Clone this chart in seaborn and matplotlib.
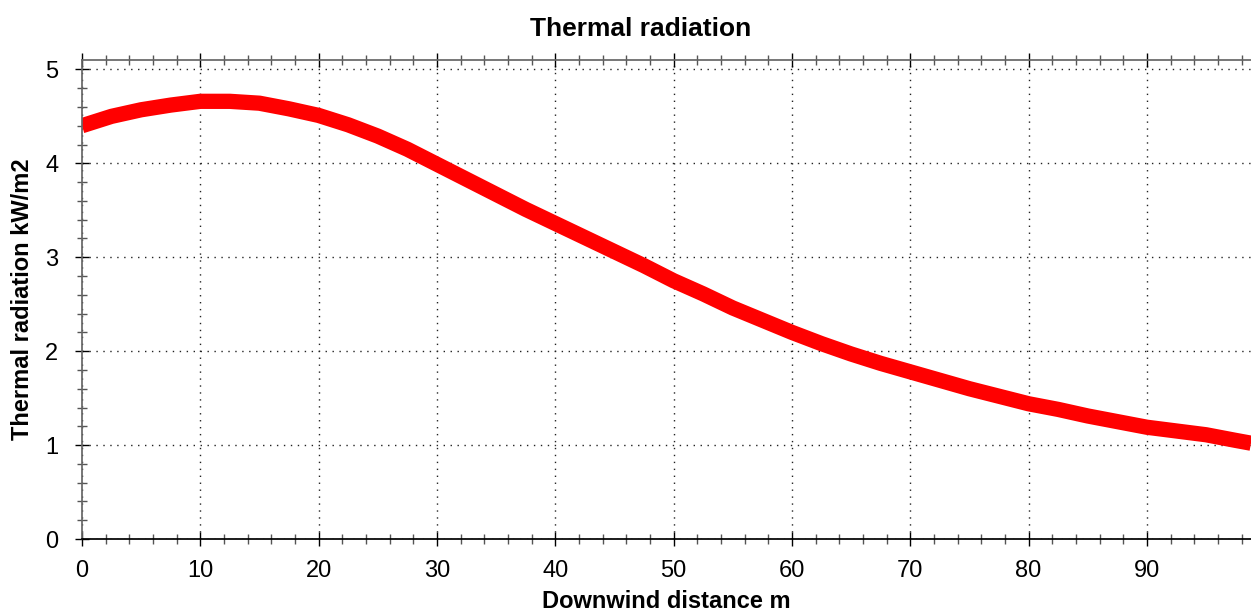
import seaborn as sns
import matplotlib.pyplot as plt
import pandas as pd
from matplotlib.ticker import MultipleLocator

sns.set_theme(style='white')
plt.rcParams['font.family'] = ['Liberation Sans', 'DejaVu Sans']
plt.rcParams['text.color'] = 'black'
plt.rcParams['axes.labelcolor'] = 'black'

distance = [0, 2.5, 5, 7.5, 10, 12.5, 15, 17.5, 20, 22.5, 25, 27.5, 30, 32.5, 35, 37.5, 40,
            42.5, 45, 47.5, 50, 52.5, 55, 57.5, 60, 62.5, 65, 67.5, 70, 72.5, 75, 77.5, 80,
            82.5, 85, 87.5, 90, 92.5, 95, 97.5, 98.8]
radiation = [4.40, 4.50, 4.57, 4.62, 4.66, 4.66, 4.64, 4.58, 4.51, 4.41, 4.29, 4.15, 3.99,
             3.83, 3.67, 3.51, 3.36, 3.21, 3.06, 2.91, 2.75, 2.61, 2.46, 2.33, 2.20, 2.08,
             1.97, 1.87, 1.78, 1.69, 1.60, 1.52, 1.44, 1.38, 1.31, 1.25, 1.19, 1.15, 1.11,
             1.05, 1.02]

df = pd.DataFrame({'Downwind distance m': distance, 'Thermal radiation kW/m2': radiation})

fig = plt.figure(figsize=(12.51, 6.16), dpi=100)
ax = fig.add_axes([0.0655, 0.125, 0.9345, 0.7776])

sns.lineplot(data=df, x='Downwind distance m', y='Thermal radiation kW/m2',
             color='red', linewidth=11, solid_capstyle='butt', ax=ax)

ax.set_xlim(0, 98.8)
ax.set_ylim(0, 5.1)
ax.xaxis.set_major_locator(MultipleLocator(10))
ax.xaxis.set_minor_locator(MultipleLocator(2))
ax.yaxis.set_major_locator(MultipleLocator(1))
ax.yaxis.set_minor_locator(MultipleLocator(0.2))

ax.grid(True, which='major', linestyle=(0, (1, 4)), color='#222222', linewidth=1)
ax.tick_params(which='major', direction='inout', length=10, width=1, colors='black',
               labelsize=17, top=True, bottom=True, left=True, right=False, labeltop=False)
ax.tick_params(which='minor', direction='inout', length=7, width=1, color='#555555',
               top=True, bottom=True, left=True, right=False)
ax.tick_params(axis='x', pad=10)
ax.tick_params(axis='y', pad=12)

for side in ['top', 'left']:
    ax.spines[side].set_color('#666666')
ax.spines['bottom'].set_color('black')
ax.spines['right'].set_visible(False)

fig.suptitle('Thermal radiation', x=0.512, y=0.972, fontsize=19, fontweight='bold')
ax.set_xlabel('Downwind distance m', fontsize=17, fontweight='bold', labelpad=6)
ax.set_ylabel('Thermal radiation kW/m2', fontsize=17, fontweight='bold', labelpad=8)

fig.savefig('out.png', dpi=100)
